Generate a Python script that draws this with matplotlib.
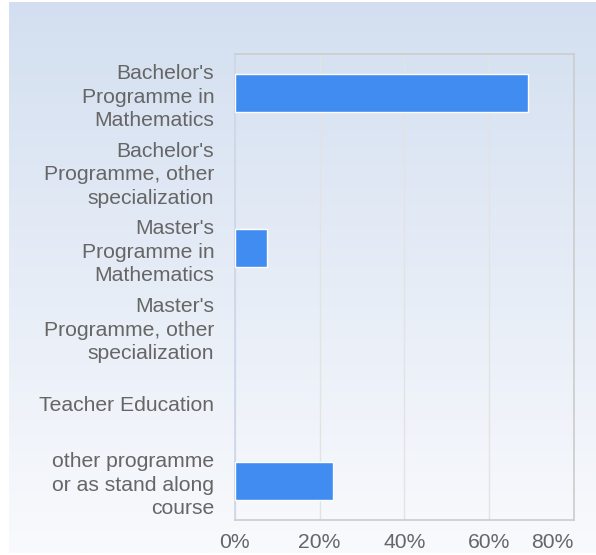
import numpy as np
import matplotlib
matplotlib.use("Agg")
import matplotlib.pyplot as plt
from matplotlib.colors import LinearSegmentedColormap

plt.rcParams["font.family"] = ["Liberation Sans", "DejaVu Sans"]

CATEGORIES = [
    "Bachelor's\nProgramme in\nMathematics",
    "Bachelor's\nProgramme, other\nspecialization",
    "Master's\nProgramme in\nMathematics",
    "Master's\nProgramme, other\nspecialization",
    "Teacher Education",
    "other programme\nor as stand along\ncourse",
]
SHARES = [69.2, 0, 7.7, 0, 0, 23.1]
XTICKS = [0, 20, 40, 60, 80]

W, H = 596, 555
fig = plt.figure(figsize=(W / 100, H / 100), dpi=100)

# gradient background (light blue at top -> near white at bottom)
bg = fig.add_axes([9 / W, 2 / H, 1 - 9 / W, 1 - 4 / H])
bg.set_axis_off()
cmap = LinearSegmentedColormap.from_list("bg", ["#d3dff0", "#f9fafd"])
bg.imshow(np.linspace(0, 1, 256).reshape(-1, 1), aspect="auto", cmap=cmap,
          extent=[0, 1, 0, 1])

ax = fig.add_axes([234.7 / W, 1 - 520 / H, (574 - 234.7) / W, (520 - 54) / H])
ax.patch.set_alpha(0)

y = np.arange(len(CATEGORIES))
ax.barh(y, SHARES, height=0.49, color="#418cf0", edgecolor="white",
        linewidth=[1 if v > 0 else 0 for v in SHARES], zorder=3)
ax.set_ylim(len(CATEGORIES) - 0.5, -0.5)
ax.set_xlim(0, 80)

ax.set_yticks(y)
ax.set_yticklabels(CATEGORIES, fontsize=15.2, color="#666666", linespacing=1.3)
ax.set_xticks(XTICKS)
ax.set_xticklabels([f"{t}%" for t in XTICKS], fontsize=15.2, color="#666666")
ax.get_xticklabels()[-1].set_ha("right")
ax.tick_params(axis="y", length=0, pad=14.8)
ax.tick_params(axis="x", length=0, pad=9.5)

ax.grid(axis="x", color="#e3e3e3", lw=1, zorder=0)
for side in ["top", "right", "bottom"]:
    ax.spines[side].set_color("#cccccc")
    ax.spines[side].set_linewidth(1.2)
ax.spines["left"].set_color("#ccd6eb")
ax.spines["left"].set_linewidth(1.2)

fig.savefig("out.png", dpi=100)
